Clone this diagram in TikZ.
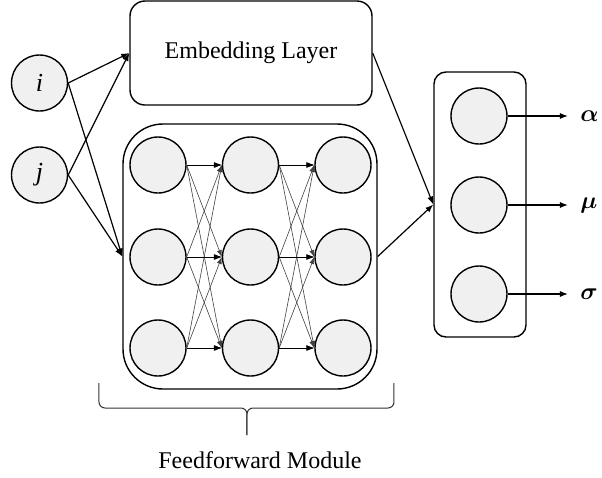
\documentclass[tikz,border=0pt]{standalone}
\usepackage{fontspec}
\setmainfont{Liberation Serif}
\usepackage{amsmath,bm}
\usetikzlibrary{arrows.meta,positioning,calc}

\tikzset{
    neuron/.style={circle, draw, line width=0.7pt, fill=gray!12, minimum size=28pt, inner sep=0pt},
    layerbox/.style={draw, rectangle, line width=0.7pt, inner sep=0pt},
    link/.style={-{Latex[length=4pt,width=3pt]}, line width=0.6pt},
    thinlink/.style={-{Latex[length=3.5pt,width=2.5pt]}, line width=0.3pt, black!75},
    outlab/.style={anchor=west, inner xsep=6pt, inner ysep=0pt, font=\fontsize{12.5}{14}\selectfont}
}

\begin{document}
\begin{tikzpicture}[x=0.5pt, y=-0.5pt, font=\fontsize{12}{14}\selectfont]
    \useasboundingbox (0,0) rectangle (602,478);

    % Inputs
    \node[neuron, font=\fontsize{13}{15}\selectfont\itshape] (i) at (39.5,83) {i};
    \node[neuron, font=\fontsize{13}{15}\selectfont\itshape] (j) at (39.5,175) {j};

    % Embedding layer
    \node[layerbox, rounded corners=7.5pt, minimum width=121pt, minimum height=52pt] (emb) at (251,53) {Embedding Layer};

    % Feedforward module
    \node[layerbox, rounded corners=20pt, minimum width=127pt, minimum height=132.5pt] (ff) at (250,256.5) {};
    \foreach \c/\x in {1/158, 2/250.5, 3/343}
        \foreach \r/\y in {1/165, 2/257, 3/348}
            \node[neuron] (n\c\r) at (\x,\y) {};
    \foreach \c/\d in {1/2, 2/3}
        \foreach \r in {1,2,3}
            \foreach \s in {1,2,3}
                \draw[thinlink] (n\c\r.east) -- (n\d\s.west);
    \foreach \c/\d in {1/2, 2/3}
        \foreach \r in {1,2,3}
            \draw[link, line width=0.45pt] (n\c\r.east) -- (n\d\r.west);

    % Output layer
    \node[layerbox, rounded corners=6pt, minimum width=46pt, minimum height=132.5pt] (out) at (480,204.5) {};
    \foreach \r/\y/\lab in {1/116/\alpha, 2/205/\mu, 3/294/\sigma} {
        \node[neuron] (o\r) at (479,\y) {};
        \node[outlab] (l\r) at (568,\y) {$\bm{\lab}$};
        \draw[link] (o\r.east) -- (l\r.west);
    }

    % Connections
    \draw[link] (i.east) -- (emb.west);
    \draw[link] (j.east) -- (emb.west);
    \draw[link] (i.east) -- (ff.west);
    \draw[link] (j.east) -- (ff.west);
    \draw[link] (emb.east) -- (out.west);
    \draw[link] (ff.east) -- (out.west);

    % Brace
    \draw[line width=0.5pt, black!80, rounded corners=3pt] (99,383) -- (99,408) -- (247,408) -- (247,435);
    \draw[line width=0.5pt, black!80, rounded corners=3pt] (394,383) -- (394,408) -- (247,408) -- (247,435);
    \node (fflab) at (260,460) {Feedforward Module};
\end{tikzpicture}
\end{document}
